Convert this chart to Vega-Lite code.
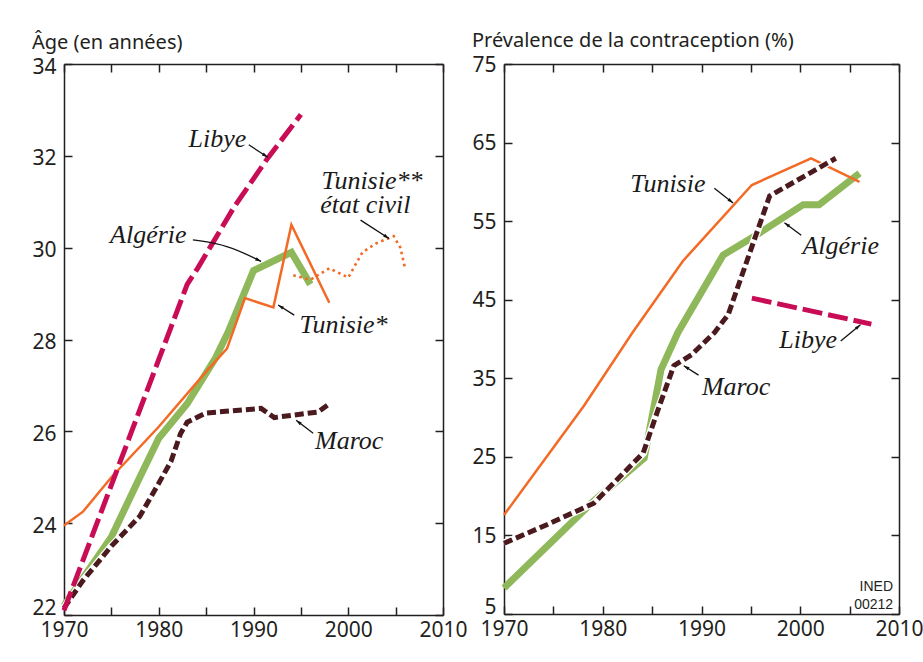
{
  "$schema": "https://vega.github.io/schema/vega-lite/v6.json",
  "background": "white",
  "padding": {"left": 31, "top": 31, "right": 0, "bottom": 12},
  "bounds": "flush",
  "spacing": 61,
  "datasets": {
    "left": [
      {"serie": "Libye", "year": 1970, "value": 22.1},
      {"serie": "Libye", "year": 1983, "value": 29.2},
      {"serie": "Libye", "year": 1984.1, "value": 29.55},
      {"serie": "Libye", "year": 1988, "value": 30.9},
      {"serie": "Libye", "year": 1991.5, "value": 31.95},
      {"serie": "Libye", "year": 1995, "value": 32.9},
      {"serie": "Algérie", "year": 1970, "value": 22.2},
      {"serie": "Algérie", "year": 1972, "value": 22.8},
      {"serie": "Algérie", "year": 1975, "value": 23.7},
      {"serie": "Algérie", "year": 1978, "value": 25.0},
      {"serie": "Algérie", "year": 1980, "value": 25.85},
      {"serie": "Algérie", "year": 1983, "value": 26.6},
      {"serie": "Algérie", "year": 1986, "value": 27.6},
      {"serie": "Algérie", "year": 1987.3, "value": 28.15},
      {"serie": "Algérie", "year": 1990, "value": 29.5},
      {"serie": "Algérie", "year": 1994, "value": 29.9},
      {"serie": "Algérie", "year": 1996, "value": 29.2},
      {"serie": "Tunisie*", "year": 1970, "value": 23.95},
      {"serie": "Tunisie*", "year": 1972, "value": 24.25},
      {"serie": "Tunisie*", "year": 1975, "value": 25.0},
      {"serie": "Tunisie*", "year": 1980, "value": 26.1},
      {"serie": "Tunisie*", "year": 1985, "value": 27.3},
      {"serie": "Tunisie*", "year": 1987.2, "value": 27.8},
      {"serie": "Tunisie*", "year": 1989.1, "value": 28.9},
      {"serie": "Tunisie*", "year": 1992.1, "value": 28.7},
      {"serie": "Tunisie*", "year": 1994, "value": 30.5},
      {"serie": "Tunisie*", "year": 1998, "value": 28.8},
      {"serie": "Tunisie** état civil", "year": 1994.2, "value": 29.4},
      {"serie": "Tunisie** état civil", "year": 1996, "value": 29.3},
      {"serie": "Tunisie** état civil", "year": 1998, "value": 29.55},
      {"serie": "Tunisie** état civil", "year": 2000, "value": 29.35},
      {"serie": "Tunisie** état civil", "year": 2001.5, "value": 29.9},
      {"serie": "Tunisie** état civil", "year": 2003, "value": 30.1},
      {"serie": "Tunisie** état civil", "year": 2004.8, "value": 30.25},
      {"serie": "Tunisie** état civil", "year": 2005.5, "value": 30.0},
      {"serie": "Tunisie** état civil", "year": 2006, "value": 29.55},
      {"serie": "Maroc", "year": 1970, "value": 22.15},
      {"serie": "Maroc", "year": 1972, "value": 22.75},
      {"serie": "Maroc", "year": 1975, "value": 23.5},
      {"serie": "Maroc", "year": 1978, "value": 24.15},
      {"serie": "Maroc", "year": 1980, "value": 24.87},
      {"serie": "Maroc", "year": 1981.3, "value": 25.35},
      {"serie": "Maroc", "year": 1982.3, "value": 25.95},
      {"serie": "Maroc", "year": 1983, "value": 26.2},
      {"serie": "Maroc", "year": 1985, "value": 26.4},
      {"serie": "Maroc", "year": 1990.8, "value": 26.5},
      {"serie": "Maroc", "year": 1992.2, "value": 26.3},
      {"serie": "Maroc", "year": 1996.8, "value": 26.42},
      {"serie": "Maroc", "year": 1998, "value": 26.6}
    ],
    "right": [
      {"serie": "Tunisie", "year": 1970, "value": 17.6},
      {"serie": "Tunisie", "year": 1978.1, "value": 31.5},
      {"serie": "Tunisie", "year": 1983, "value": 40.8},
      {"serie": "Tunisie", "year": 1988.1, "value": 49.9},
      {"serie": "Tunisie", "year": 1995.1, "value": 59.6},
      {"serie": "Tunisie", "year": 2001.1, "value": 63.0},
      {"serie": "Tunisie", "year": 2006, "value": 60.0},
      {"serie": "Algérie", "year": 1970, "value": 8.3},
      {"serie": "Algérie", "year": 1979.1, "value": 19.4},
      {"serie": "Algérie", "year": 1984.2, "value": 24.85},
      {"serie": "Algérie", "year": 1985.9, "value": 36.1},
      {"serie": "Algérie", "year": 1987.6, "value": 40.8},
      {"serie": "Algérie", "year": 1992.2, "value": 50.7},
      {"serie": "Algérie", "year": 1995.4, "value": 53.1},
      {"serie": "Algérie", "year": 2000.3, "value": 57.1},
      {"serie": "Algérie", "year": 2001.9, "value": 57.1},
      {"serie": "Algérie", "year": 2006, "value": 61.1},
      {"serie": "Maroc", "year": 1970, "value": 14.0},
      {"serie": "Maroc", "year": 1974.4, "value": 16.4},
      {"serie": "Maroc", "year": 1979.1, "value": 19.1},
      {"serie": "Maroc", "year": 1984.1, "value": 25.5},
      {"serie": "Maroc", "year": 1985.6, "value": 31.0},
      {"serie": "Maroc", "year": 1987.2, "value": 36.6},
      {"serie": "Maroc", "year": 1989, "value": 38.0},
      {"serie": "Maroc", "year": 1991.3, "value": 40.8},
      {"serie": "Maroc", "year": 1992.7, "value": 43.1},
      {"serie": "Maroc", "year": 1996.9, "value": 58.2},
      {"serie": "Maroc", "year": 2003.6, "value": 63.0},
      {"serie": "Libye", "year": 1995.1, "value": 45.2},
      {"serie": "Libye", "year": 2007.2, "value": 41.9}
    ],
    "leftNotes": [
      {"label": "Libye", "year": 1986.2, "value": 32.37},
      {"label": "Algérie", "year": 1978.9, "value": 30.27},
      {"label": "Tunisie*", "year": 1999.5, "value": 28.31},
      {"label": "Tunisie**", "year": 2002.5, "value": 31.46},
      {"label": "état civil", "year": 2001.8, "value": 30.93},
      {"label": "Maroc", "year": 2000.1, "value": 25.8}
    ],
    "leftArrows": [
      {"a": "libye", "o": 1, "year": 1989.5, "value": 32.24},
      {"a": "libye", "o": 2, "year": 1991.5, "value": 31.97},
      {"a": "algerie", "o": 1, "year": 1983.6, "value": 30.17},
      {"a": "algerie", "o": 2, "year": 1987.3, "value": 30.06},
      {"a": "algerie", "o": 3, "year": 1990.8, "value": 29.7},
      {"a": "tunisie", "o": 1, "year": 1994.3, "value": 28.53},
      {"a": "tunisie", "o": 2, "year": 1992.6, "value": 28.75},
      {"a": "etat", "o": 1, "year": 2001.3, "value": 30.6},
      {"a": "etat", "o": 2, "year": 2004.3, "value": 30.2},
      {"a": "maroc", "o": 1, "year": 1996.3, "value": 25.96},
      {"a": "maroc", "o": 2, "year": 1994.5, "value": 26.24}
    ],
    "rightNotes": [
      {"label": "Tunisie", "year": 1986.6, "value": 59.7},
      {"label": "Algérie", "year": 2004.1, "value": 51.8},
      {"label": "Libye", "year": 2000.8, "value": 39.9},
      {"label": "Maroc", "year": 1993.5, "value": 33.9}
    ],
    "rightArrows": [
      {"a": "tunisie", "o": 1, "year": 1991.3, "value": 59.2},
      {"a": "tunisie", "o": 2, "year": 1993.2, "value": 57.3},
      {"a": "algerie", "o": 1, "year": 2000.1, "value": 53.2},
      {"a": "algerie", "o": 2, "year": 1998.4, "value": 54.8},
      {"a": "libye", "o": 1, "year": 2004.1, "value": 39.75},
      {"a": "libye", "o": 2, "year": 2006.1, "value": 41.8},
      {"a": "maroc", "o": 1, "year": 1989.7, "value": 35.4},
      {"a": "maroc", "o": 2, "year": 1988.2, "value": 36.6}
    ],
    "credit": [
      {"label": "INED", "year": 2009.4, "value": 8.5},
      {"label": "00212", "year": 2009.4, "value": 6.2}
    ]
  },
  "hconcat": [
    {
      "width": 379,
      "height": 551,
      "title": {"text": "Âge (en années)"},
      "encoding": {
        "x": {"field": "year", "type": "quantitative", "scale": {"domain": [1970, 2010], "nice": false, "zero": false}, "axis": null},
        "y": {"field": "value", "type": "quantitative", "scale": {"domain": [22, 34], "nice": false, "zero": false}, "axis": null}
      },
      "layer": [
        {
          "data": {"name": "left"},
          "transform": [{"filter": "datum.serie === 'Algérie'"}],
          "mark": {"type": "line", "color": "#8fb85a", "strokeWidth": 7, "strokeJoin": "miter"},
          "encoding": {
            "x": {"field": "year", "type": "quantitative", "scale": {"domain": [1970, 2010], "nice": false, "zero": false},
              "axis": {"orient": "bottom", "title": null, "values": [1970, 1975, 1980, 1985, 1990, 1995, 2000, 2005, 2010], "format": "d", "labelExpr": "datum.value % 10 === 0 ? datum.label : ''", "labelFlush": false, "labelOverlap": false, "labelPadding": 12}},
            "y": {"field": "value", "type": "quantitative", "scale": {"domain": [22, 34], "nice": false, "zero": false},
              "axis": {"orient": "left", "title": null, "values": [22, 24, 26, 28, 30, 32, 34], "labelOverlap": false, "labelFlush": false,
                "labelOffset": {"condition": {"test": "datum.value === 22", "value": -7}, "value": 3}}}
          }
        },
        {
          "data": {"name": "left"},
          "transform": [{"filter": "datum.serie === 'Tunisie*'"}],
          "mark": {"type": "line", "color": "#f26a25", "strokeWidth": 2.5, "strokeJoin": "miter"},
          "encoding": {
            "x": {"field": "year", "type": "quantitative", "scale": {"domain": [1970, 2010], "nice": false, "zero": false},
              "axis": {"orient": "top", "title": null, "values": [1970, 1975, 1980, 1985, 1990, 1995, 2000, 2005, 2010], "labels": false}},
            "y": {"field": "value", "type": "quantitative", "scale": {"domain": [22, 34], "nice": false, "zero": false},
              "axis": {"orient": "right", "title": null, "values": [22, 24, 26, 28, 30, 32, 34], "labels": false}}
          }
        },
        {
          "data": {"name": "left"},
          "transform": [{"filter": "datum.serie === 'Tunisie** état civil'"}],
          "mark": {"type": "line", "color": "#f26a25", "strokeWidth": 2.6, "strokeDash": [2.6, 3.6]}
        },
        {
          "data": {"name": "left"},
          "transform": [{"filter": "datum.serie === 'Maroc'"}],
          "mark": {"type": "line", "color": "white", "strokeWidth": 7.5}
        },
        {
          "data": {"name": "left"},
          "transform": [{"filter": "datum.serie === 'Maroc'"}],
          "mark": {"type": "line", "color": "#4a1a1e", "strokeWidth": 5, "strokeDash": [9, 4]}
        },
        {
          "data": {"name": "left"},
          "transform": [{"filter": "datum.serie === 'Libye'"}],
          "mark": {"type": "line", "color": "#c80c56", "strokeWidth": 5, "strokeDash": [20, 6]}
        },
        {
          "data": {"name": "leftArrows"},
          "mark": {"type": "line", "color": "#111", "strokeWidth": 1.3, "interpolate": "basis"},
          "encoding": {"detail": {"field": "a"}, "order": {"field": "o", "type": "quantitative"}}
        },
        {
          "data": {"name": "leftArrows"},
          "transform": [{"filter": "datum.a === 'libye' && datum.o === 2"}],
          "mark": {"type": "point", "shape": "M0,0L-0.45,1.5L0.45,1.5Z", "size": 60, "filled": true, "color": "#111", "opacity": 1, "angle": 123}
        },
        {
          "data": {"name": "leftArrows"},
          "transform": [{"filter": "datum.a === 'algerie' && datum.o === 3"}],
          "mark": {"type": "point", "shape": "M0,0L-0.45,1.5L0.45,1.5Z", "size": 60, "filled": true, "color": "#111", "opacity": 1, "angle": 116}
        },
        {
          "data": {"name": "leftArrows"},
          "transform": [{"filter": "datum.a === 'tunisie' && datum.o === 2"}],
          "mark": {"type": "point", "shape": "M0,0L-0.45,1.5L0.45,1.5Z", "size": 60, "filled": true, "color": "#111", "opacity": 1, "angle": -58}
        },
        {
          "data": {"name": "leftArrows"},
          "transform": [{"filter": "datum.a === 'etat' && datum.o === 2"}],
          "mark": {"type": "point", "shape": "M0,0L-0.45,1.5L0.45,1.5Z", "size": 60, "filled": true, "color": "#111", "opacity": 1, "angle": 123}
        },
        {
          "data": {"name": "leftArrows"},
          "transform": [{"filter": "datum.a === 'maroc' && datum.o === 2"}],
          "mark": {"type": "point", "shape": "M0,0L-0.45,1.5L0.45,1.5Z", "size": 60, "filled": true, "color": "#111", "opacity": 1, "angle": -53}
        },
        {
          "data": {"name": "leftNotes"},
          "mark": {"type": "text", "font": "Liberation Serif", "fontStyle": "italic", "fontSize": 26, "color": "#1a1a1a"},
          "encoding": {"text": {"field": "label"}}
        }
      ],
      "resolve": {"axis": {"x": "independent", "y": "independent"}}
    },
    {
      "width": 395,
      "height": 550,
      "title": {"text": "Prévalence de la contraception (%)"},
      "encoding": {
        "x": {"field": "year", "type": "quantitative", "scale": {"domain": [1970, 2010], "nice": false, "zero": false}, "axis": null},
        "y": {"field": "value", "type": "quantitative", "scale": {"domain": [5, 75], "nice": false, "zero": false}, "axis": null}
      },
      "layer": [
        {
          "data": {"name": "right"},
          "transform": [{"filter": "datum.serie === 'Algérie'"}],
          "mark": {"type": "line", "color": "#8fb85a", "strokeWidth": 7, "strokeJoin": "miter"},
          "encoding": {
            "x": {"field": "year", "type": "quantitative", "scale": {"domain": [1970, 2010], "nice": false, "zero": false},
              "axis": {"orient": "bottom", "title": null, "values": [1970, 1975, 1980, 1985, 1990, 1995, 2000, 2005, 2010], "format": "d", "labelExpr": "datum.value % 10 === 0 ? datum.label : ''", "labelFlush": false, "labelOverlap": false, "labelPadding": 12}},
            "y": {"field": "value", "type": "quantitative", "scale": {"domain": [5, 75], "nice": false, "zero": false},
              "axis": {"orient": "left", "title": null, "values": [5, 15, 25, 35, 45, 55, 65, 75], "labelOverlap": false, "labelFlush": false,
                "labelOffset": {"condition": {"test": "datum.value === 5", "value": -7}, "value": 1}}}
          }
        },
        {
          "data": {"name": "right"},
          "transform": [{"filter": "datum.serie === 'Tunisie'"}],
          "mark": {"type": "line", "color": "#f26a25", "strokeWidth": 2.5, "strokeJoin": "miter"},
          "encoding": {
            "x": {"field": "year", "type": "quantitative", "scale": {"domain": [1970, 2010], "nice": false, "zero": false},
              "axis": {"orient": "top", "title": null, "values": [1970, 1975, 1980, 1985, 1990, 1995, 2000, 2005, 2010], "labels": false}},
            "y": {"field": "value", "type": "quantitative", "scale": {"domain": [5, 75], "nice": false, "zero": false},
              "axis": {"orient": "right", "title": null, "values": [5, 15, 25, 35, 45, 55, 65, 75], "labels": false}}
          }
        },
        {
          "data": {"name": "right"},
          "transform": [{"filter": "datum.serie === 'Maroc'"}],
          "mark": {"type": "line", "color": "white", "strokeWidth": 7.5}
        },
        {
          "data": {"name": "right"},
          "transform": [{"filter": "datum.serie === 'Maroc'"}],
          "mark": {"type": "line", "color": "#4a1a1e", "strokeWidth": 5, "strokeDash": [9, 4]}
        },
        {
          "data": {"name": "right"},
          "transform": [{"filter": "datum.serie === 'Libye'"}],
          "mark": {"type": "line", "color": "#c80c56", "strokeWidth": 5, "strokeDash": [20, 6]}
        },
        {
          "data": {"name": "rightArrows"},
          "mark": {"type": "line", "color": "#111", "strokeWidth": 1.3},
          "encoding": {"detail": {"field": "a"}, "order": {"field": "o", "type": "quantitative"}}
        },
        {
          "data": {"name": "rightArrows"},
          "transform": [{"filter": "datum.a === 'tunisie' && datum.o === 2"}],
          "mark": {"type": "point", "shape": "M0,0L-0.45,1.5L0.45,1.5Z", "size": 60, "filled": true, "color": "#111", "opacity": 1, "angle": 128}
        },
        {
          "data": {"name": "rightArrows"},
          "transform": [{"filter": "datum.a === 'algerie' && datum.o === 2"}],
          "mark": {"type": "point", "shape": "M0,0L-0.45,1.5L0.45,1.5Z", "size": 60, "filled": true, "color": "#111", "opacity": 1, "angle": -53}
        },
        {
          "data": {"name": "rightArrows"},
          "transform": [{"filter": "datum.a === 'libye' && datum.o === 2"}],
          "mark": {"type": "point", "shape": "M0,0L-0.45,1.5L0.45,1.5Z", "size": 60, "filled": true, "color": "#111", "opacity": 1, "angle": 51}
        },
        {
          "data": {"name": "rightArrows"},
          "transform": [{"filter": "datum.a === 'maroc' && datum.o === 2"}],
          "mark": {"type": "point", "shape": "M0,0L-0.45,1.5L0.45,1.5Z", "size": 60, "filled": true, "color": "#111", "opacity": 1, "angle": -58}
        },
        {
          "data": {"name": "rightNotes"},
          "mark": {"type": "text", "font": "Liberation Serif", "fontStyle": "italic", "fontSize": 26, "color": "#1a1a1a"},
          "encoding": {"text": {"field": "label"}}
        },
        {
          "data": {"name": "credit"},
          "mark": {"type": "text", "font": "Liberation Sans", "fontSize": 14, "align": "right", "color": "#231f20"},
          "encoding": {"text": {"field": "label"}}
        }
      ],
      "resolve": {"axis": {"x": "independent", "y": "independent"}}
    }
  ],
  "config": {
    "view": {"stroke": null},
    "axis": {
      "domainColor": "#231f20",
      "domainWidth": 1.5,
      "tickColor": "#231f20",
      "tickWidth": 1.5,
      "tickSize": -8,
      "labelPadding": 16,
      "labelFont": "Noto Sans",
      "labelFontSize": 21,
      "labelColor": "#231f20",
      "grid": false
    },
    "title": {
      "anchor": "start",
      "frame": "bounds",
      "font": "Noto Sans",
      "fontSize": 20,
      "fontWeight": "normal",
      "color": "#231f20",
      "offset": 3
    }
  }
}
